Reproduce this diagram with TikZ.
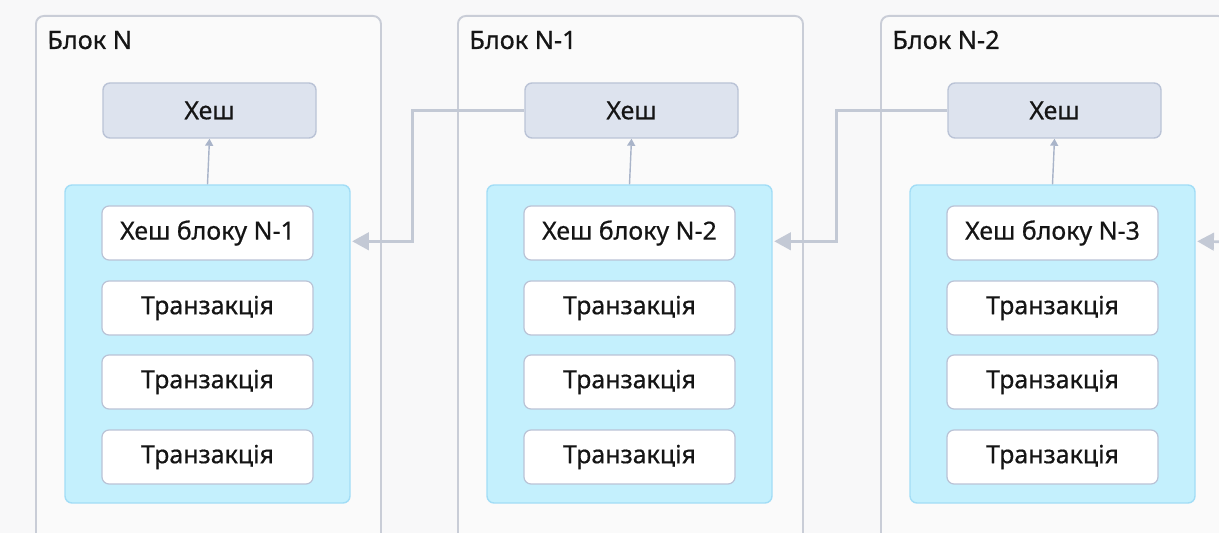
\documentclass[tikz,border=0pt]{standalone}
\usepackage{fontspec}
\setmainfont{Noto Sans}[BoldFont=Noto Sans, BoldFeatures={FakeBold=0.6}]
\usetikzlibrary{arrows.meta,calc}
\definecolor{bgcol}{HTML}{F8F8F9}
\definecolor{blkline}{HTML}{C9CDD7}
\definecolor{blkfill}{HTML}{FAFAFA}
\definecolor{hashfill}{HTML}{DDE3EE}
\definecolor{hashline}{HTML}{BAC3D6}
\definecolor{bodyfill}{HTML}{C4F0FD}
\definecolor{bodyline}{HTML}{A2DDF6}
\definecolor{linkcol}{HTML}{C3C9D5}
\definecolor{upcol}{HTML}{A9B4C9}
\definecolor{txtcol}{HTML}{151515}
\def\u{0.02cm}

\begin{document}
\begin{tikzpicture}[x=0.02cm,y=-0.02cm,
    every node/.style={inner sep=0pt, text=txtcol, font=\fontsize{14.2}{16}\selectfont\bfseries},
    blockbox/.style={draw=blkline, fill=blkfill, line width=1.1pt, rounded corners=4.5pt,
      minimum width=345*\u, minimum height=560*\u, anchor=north west},
    blocklabel/.style={anchor=base west, font=\fontsize{14.4}{16}\selectfont\bfseries},
    hashbox/.style={draw=hashline, fill=hashfill, line width=0.8pt, rounded corners=4pt,
      minimum width=213*\u, minimum height=55*\u},
    bodybox/.style={draw=bodyline, fill=bodyfill, line width=0.8pt, rounded corners=4pt,
      minimum width=285*\u, minimum height=318*\u},
    itembox/.style={draw=hashline, fill=white, line width=0.7pt, rounded corners=4pt,
      minimum width=211*\u, minimum height=54*\u},
    uparrow/.style={draw=upcol, line width=0.8pt, -{Triangle[length=4pt,width=4.5pt]}},
    link/.style={draw=linkcol, line width=1.5pt, -{Triangle[length=9.5pt,width=10pt]}}]
  \useasboundingbox (0,0) rectangle (1219,533);
  \clip (0,0) rectangle (1219,533);
  \fill [bgcol] (0,0) rectangle (1219,533);

  % three blocks, newest on the left
  \foreach \i/\dx/\name/\prev in {1/0/N/N-1, 2/422/N-1/N-2, 3/845/N-2/N-3} {
    \node [blockbox] (blk\i) at (35+\dx,15) {};
    \node [blocklabel] (lbl\i) at (47+\dx,49) {Блок \name};
    \node [hashbox] (hash\i) at (209.5+\dx,110.5) {Хеш};
    \node [bodybox] (body\i) at (207.5+\dx,344) {};
    \node [itembox] (prev\i) at (207.5+\dx,233) {Хеш блоку \prev};
    \node [itembox] (txa\i) at (207.5+\dx,308) {Транзакція};
    \node [itembox] (txb\i) at (207.5+\dx,382) {Транзакція};
    \node [itembox] (txc\i) at (207.5+\dx,457) {Транзакція};
    \draw [uparrow] (body\i.north) -- (hash\i.south);
    \coordinate (in\i) at ($(body\i.north east)+(1.5,57)$);
  }

  % links to the previous block
  \draw [link] (hash2.west) -- ++(-112,0) |- (in1);
  \draw [link] (hash3.west) -- ++(-111,0) |- (in2);
  \coordinate (offR) at (1230,242);
  \draw [link] (offR) -- (in3);
\end{tikzpicture}
\end{document}
